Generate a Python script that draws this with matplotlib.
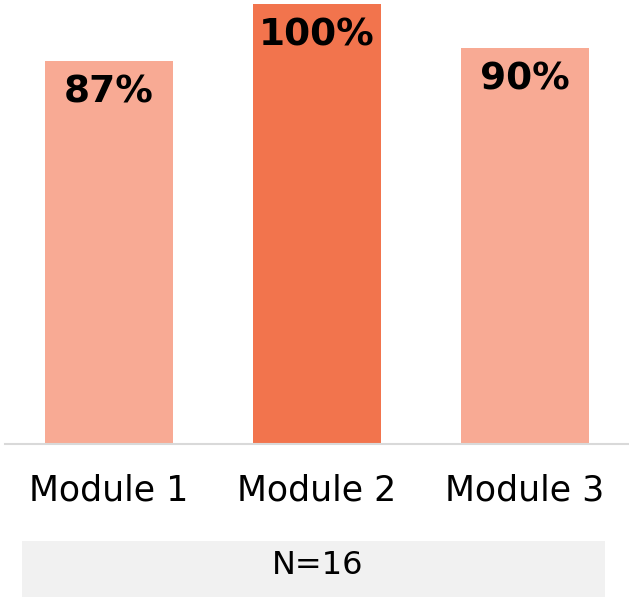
import matplotlib.pyplot as plt
from matplotlib.patches import Rectangle

modules = ["Module 1", "Module 2", "Module 3"]
scores = [87, 100, 90]
colors = ["#F8AA94", "#F2744D", "#F8AA94"]
sample_note = "N=16"

plt.rcParams["font.family"] = ["DejaVu Sans"]

fig = plt.figure(figsize=(6.29, 5.99), dpi=100)
ax = fig.add_axes([5 / 629, 155 / 599, 624 / 629, 440 / 599])

x = range(len(modules))
ax.bar(x, scores, width=0.615, color=colors)
ax.set_xlim(-0.5, 2.5)
ax.set_ylim(0, 100)

# percentage labels sit inside the top of each bar
for i, v in zip(x, scores):
    ax.annotate(f"{v}%", (i, v), xytext=(0, -22.5), textcoords="offset points",
                ha="center", va="center", fontsize=27, fontweight="bold", color="black")

ax.set_xticks(list(x))
ax.set_xticklabels(modules, fontsize=25)
ax.tick_params(axis="x", length=0, pad=21)
ax.set_yticks([])
for s in ["top", "right", "left"]:
    ax.spines[s].set_visible(False)
ax.spines["bottom"].set_color("#d9d9d9")
ax.spines["bottom"].set_linewidth(1.5)

# grey footer box with the sample size
fig.patches.append(Rectangle((22 / 629, 2 / 599), 583 / 629, 56 / 599,
                             transform=fig.transFigure, facecolor="#f1f1f1",
                             edgecolor="none", zorder=0))
fig.text(318 / 629, 34 / 599, sample_note, ha="center", va="center", fontsize=23)

fig.savefig("out.png", dpi=100)
